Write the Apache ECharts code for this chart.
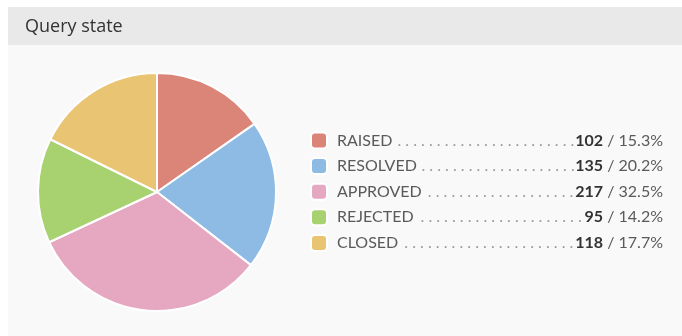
<!DOCTYPE html>
<html>
<head>
<meta charset="utf-8">
<script src="https://cdn.jsdelivr.net/npm/echarts@6/dist/echarts.min.js"></script>
<style>
  html, body { margin: 0; padding: 0; background: #ffffff; }
  #chart { width: 682px; height: 336px; }
</style>
</head>
<body>
<div id="chart"></div>
<script>
// Query states and their counts
const categories = ['RAISED', 'RESOLVED', 'APPROVED', 'REJECTED', 'CLOSED'];
const counts = [102, 135, 217, 95, 118];
const sliceColors = ['#db8478', '#8ebbe3', '#e6a7c0', '#a8d170', '#e8c473'];

const total = counts.reduce((a, b) => a + b, 0);
const legendFont = 'Lato';
const legendSize = 16;
const legendLine = 16;

// Measure text so the dotted leaders fill the gap up to the right-aligned values
const measureCtx = document.createElement('canvas').getContext('2d');
function textWidth(text, weight) {
  measureCtx.font = 'normal ' + weight + ' ' + legendSize + 'px ' + legendFont;
  return measureCtx.measureText(text).width;
}
const legendTextWidth = 326;   // from the start of the name to the end of the percentage
const namePad = 5;
const dotPairWidth = textWidth(' .', 'normal');

const rows = categories.map((name, i) => {
  const value = String(counts[i]);
  const pct = ' / ' + (counts[i] / total * 100).toFixed(1) + '%';
  const gap = legendTextWidth - textWidth(name, 'normal') - textWidth(value, 'bold') - textWidth(pct, 'normal');
  const n = Math.max(0, Math.floor((gap - 1) / dotPairWidth));
  return { name, value, pct, gap, dots: ' .'.repeat(n) };
});
const rowByName = {};
rows.forEach(r => { rowByName[r.name] = r; });

// Rich text styles for the legend rows; each leader gets its own measured width
const rich = {
  n: { fontFamily: legendFont, fontSize: legendSize, lineHeight: legendLine, color: '#5a5a5a', padding: [0, 0, 0, namePad] },
  v: { fontFamily: legendFont, fontSize: legendSize, lineHeight: legendLine, fontWeight: 'bold', color: '#333333' },
  p: { fontFamily: legendFont, fontSize: legendSize, lineHeight: legendLine, color: '#5a5a5a' }
};
rows.forEach((r, i) => {
  rich['d' + i] = {
    fontFamily: legendFont, fontSize: legendSize, lineHeight: legendLine,
    color: '#9a9a9a', align: 'right', width: Math.max(0, r.gap)
  };
});

const chart = echarts.init(document.getElementById('chart'), null, { renderer: 'canvas' });

chart.setOption({
  backgroundColor: '#ffffff',
  animation: false,
  color: sliceColors,
  graphic: [
    { type: 'rect', silent: true, z: 0, shape: { x: 8, y: 7, width: 674, height: 329 }, style: { fill: '#f9f9f9' } },
    { type: 'rect', silent: true, z: 0, shape: { x: 8, y: 7, width: 674, height: 38 }, style: { fill: '#e9e9e9' } }
  ],
  title: {
    text: 'Query state',
    left: 25,
    top: 18,
    padding: 0,
    textStyle: { fontFamily: 'Open Sans', fontSize: 18, fontWeight: 'normal', color: '#333333' }
  },
  legend: {
    orient: 'vertical',
    left: 310,
    top: 131.5,
    padding: 0,
    itemWidth: 16,
    itemHeight: 16,
    itemGap: 7.6,
    icon: 'roundRect',
    selectedMode: false,
    data: categories,
    formatter: function (name) {
      const r = rowByName[name];
      const key = 'd' + categories.indexOf(name);
      return '{n|' + r.name + '}{' + key + '|' + r.dots + '}{v|' + r.value + '}{p|' + r.pct + '}';
    },
    textStyle: {
      fontFamily: legendFont,
      fontSize: legendSize,
      lineHeight: legendLine,
      color: '#5a5a5a',
      rich: rich
    }
  },
  series: [{
    type: 'pie',
    center: [157, 192],
    radius: 119,
    startAngle: 90,
    clockwise: true,
    label: { show: false },
    labelLine: { show: false },
    emphasis: { disabled: true },
    itemStyle: { borderColor: '#ffffff', borderWidth: 2 },
    data: categories.map((name, i) => ({ name: name, value: counts[i] }))
  }]
});
</script>
</body>
</html>
